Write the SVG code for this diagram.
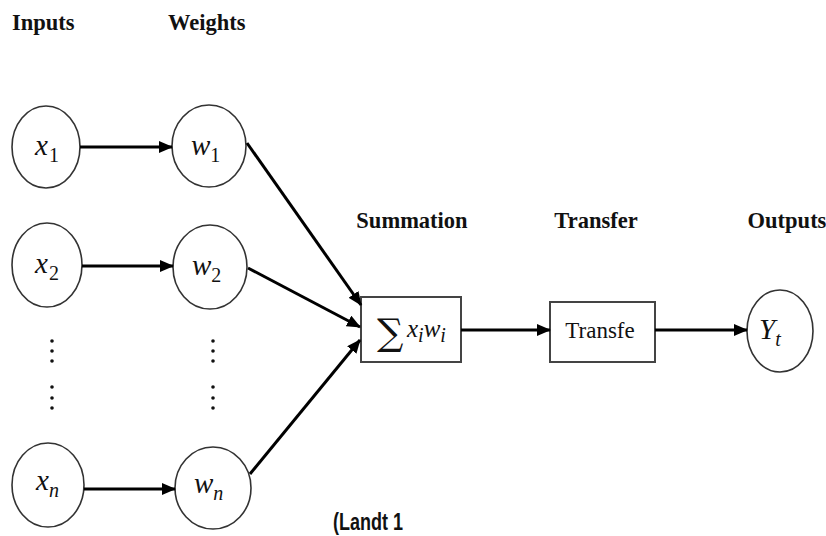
<svg xmlns="http://www.w3.org/2000/svg" width="826" height="536" viewBox="0 0 826 536">
<defs>
<marker id="ah" markerUnits="userSpaceOnUse" markerWidth="14" markerHeight="12" refX="13" refY="6" orient="auto">
<path d="M0,0 L14,6 L0,12 Z" fill="#000"/>
</marker>
<style>
.node ellipse{fill:#fff;stroke:#333;stroke-width:1.6}
.box{fill:#fff;stroke:#444;stroke-width:2}
.hdr{font-family:"Liberation Serif","Times New Roman",serif;font-weight:bold;font-size:22.5px;fill:#111}
.m{font-family:"Liberation Serif","Times New Roman",serif;font-style:italic;font-size:29px;fill:#111}
.sub{font-family:"Liberation Serif","Times New Roman",serif;font-style:normal;font-size:20px;fill:#111}
.subi{font-family:"Liberation Serif","Times New Roman",serif;font-style:italic;font-size:20px;fill:#111}
.conn line{stroke:#000;stroke-width:3;marker-end:url(#ah)}
.dot{fill:#111}
</style>
</defs>
<rect width="826" height="536" fill="#fff"/>
<text class="hdr" x="12" y="30">Inputs</text>
<text class="hdr" x="168" y="30">Weights</text>
<text class="hdr" x="412" y="228" text-anchor="middle">Summation</text>
<text class="hdr" x="596" y="228" text-anchor="middle">Transfer</text>
<text class="hdr" x="787" y="228" text-anchor="middle">Outputs</text>

<g id="x1" class="node"><ellipse cx="46" cy="147" rx="34" ry="41"/><text class="m" x="35" y="155">x<tspan class="sub" dy="7" dx="1">1</tspan></text></g>
<g id="w1" class="node"><ellipse cx="209" cy="146" rx="37" ry="41"/><text class="m" x="191" y="155">w<tspan class="sub" dy="7">1</tspan></text></g>
<g id="x2" class="node"><ellipse cx="47" cy="265" rx="35" ry="42"/><text class="m" x="35" y="273">x<tspan class="sub" dy="7" dx="1">2</tspan></text></g>
<g id="w2" class="node"><ellipse cx="210" cy="267" rx="37" ry="42"/><text class="m" x="192" y="275">w<tspan class="sub" dy="7">2</tspan></text></g>
<g id="xn" class="node"><ellipse cx="48" cy="485" rx="36" ry="42"/><text class="m" x="36" y="490">x<tspan class="subi" dy="7">n</tspan></text></g>
<g id="wn" class="node"><ellipse cx="213" cy="488" rx="38" ry="41"/><text class="m" x="194" y="493">w<tspan class="subi" dy="7">n</tspan></text></g>
<g id="yt" class="node"><ellipse cx="780" cy="331" rx="33" ry="41"/><text class="m" x="759" y="339">Y<tspan class="subi" dy="7">t</tspan></text></g>

<g id="dots">
<circle class="dot" cx="52" cy="341" r="1.8"/><circle class="dot" cx="52" cy="351" r="1.8"/><circle class="dot" cx="52" cy="361" r="1.8"/>
<circle class="dot" cx="52" cy="387" r="1.8"/><circle class="dot" cx="52" cy="398" r="1.8"/><circle class="dot" cx="52" cy="408" r="1.8"/>
<circle class="dot" cx="213" cy="341" r="1.8"/><circle class="dot" cx="213" cy="351" r="1.8"/><circle class="dot" cx="213" cy="361" r="1.8"/>
<circle class="dot" cx="213" cy="387" r="1.8"/><circle class="dot" cx="213" cy="398" r="1.8"/><circle class="dot" cx="213" cy="408" r="1.8"/>
</g>

<g id="sum">
<rect class="box" x="361" y="297" width="100" height="65"/>
<text x="377" y="345" style="font-family:'DejaVu Serif','Liberation Serif',serif;font-size:37px;fill:#111">∑</text>
<text class="m" x="407" y="337" style="font-size:25px">x<tspan class="subi" dy="5">i</tspan><tspan dy="-5">w</tspan><tspan class="subi" dy="5">i</tspan></text>
</g>
<g id="transfer">
<rect class="box" x="550" y="302" width="105" height="60"/>
<text x="600" y="338" text-anchor="middle" style="font-family:'Liberation Serif','Times New Roman',serif;font-size:23px;fill:#111">Transfe</text>
</g>

<g id="connectors" class="conn">
<line x1="80" y1="147" x2="172" y2="147"/>
<line x1="82" y1="266" x2="173" y2="266"/>
<line x1="84" y1="489" x2="175" y2="489"/>
<line x1="247" y1="143" x2="361" y2="305"/>
<line x1="248" y1="268" x2="360" y2="327"/>
<line x1="250" y1="474" x2="360" y2="340"/>
<line x1="461" y1="330" x2="550" y2="330"/>
<line x1="655" y1="330" x2="747" y2="330"/>
</g>

<text x="333" y="530" textLength="70" lengthAdjust="spacingAndGlyphs" style="font-family:'Liberation Sans',Arial,sans-serif;font-weight:bold;font-size:23px;fill:#111">(Landt 1</text>
</svg>
